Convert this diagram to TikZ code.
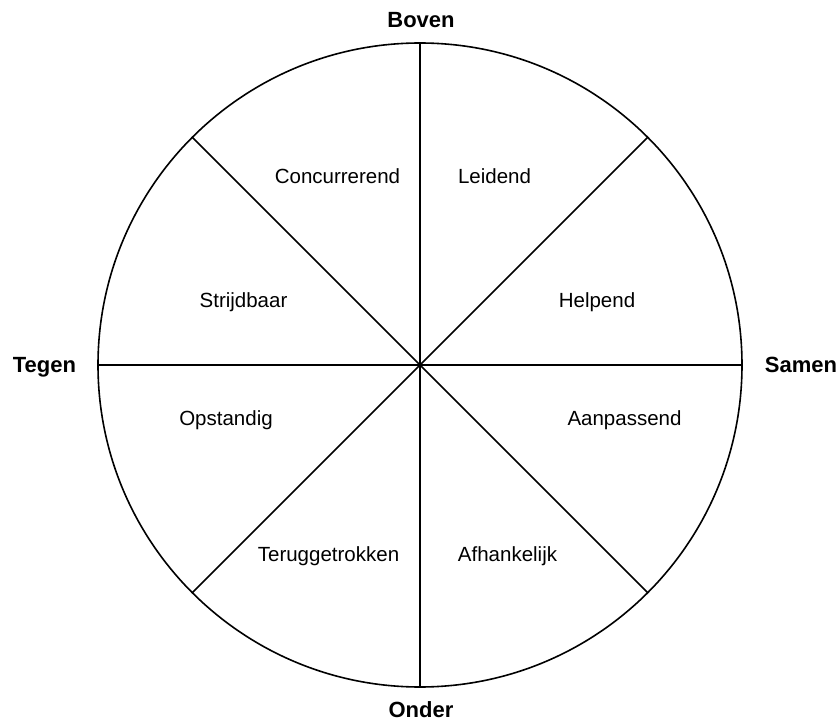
\documentclass[tikz,border=0pt]{standalone}
\usepackage{fontspec}
\setmainfont{Liberation Sans}
\begin{document}
\begin{tikzpicture}[x=1pt,y=-1pt,
  seg/.style={font=\fontsize{20.5}{24}\selectfont, anchor=base, inner sep=0pt},
  pole/.style={font=\fontsize{22}{26}\selectfont\bfseries, anchor=base, inner sep=0pt},
  wheel/.style={line width=1.6pt, black}]
\useasboundingbox (0,0) rectangle (839,722);
\coordinate (c) at (420,365);
\draw[wheel] (c) circle[radius=322];
\foreach \a in {0,45,...,315}{
  \draw[wheel] (c) -- ++(\a:322);
}
\node[pole] (boven) at (421,28) {Boven};
\node[pole] (onder) at (421,717) {Onder};
\node[pole] (tegen) at (44.5,373) {Tegen};
\node[pole] (samen) at (801,373) {Samen};
\node[seg] (conc) at (337.5,184) {Concurrerend};
\node[seg] (leid) at (494.5,184) {Leidend};
\node[seg] (strij) at (243.5,308) {Strijdbaar};
\node[seg] (help) at (597,308) {Helpend};
\node[seg] (opst) at (226,425) {Opstandig};
\node[seg] (aanp) at (624.5,425) {Aanpassend};
\node[seg] (terug) at (328.5,561) {Teruggetrokken};
\node[seg] (afh) at (507.5,561) {Afhankelijk};
\end{tikzpicture}
\end{document}
